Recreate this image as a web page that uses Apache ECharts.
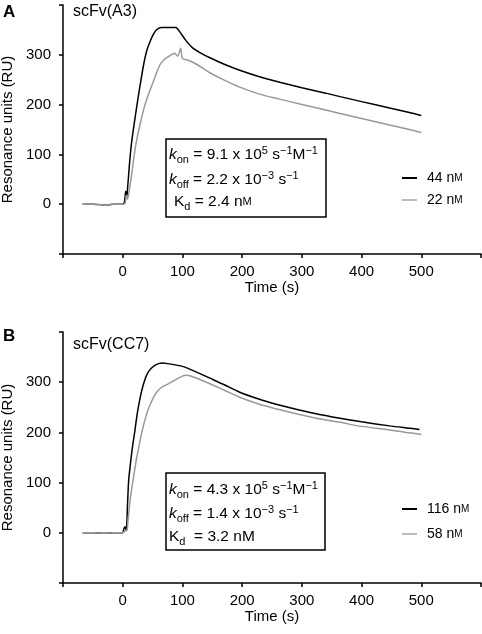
<!DOCTYPE html>
<html><head><meta charset="utf-8">
<script src="https://cdn.jsdelivr.net/npm/echarts@6/dist/echarts.min.js"></script>
<style>html,body{margin:0;padding:0;background:#fff}#c{width:482px;height:634px}</style>
</head><body><div id="c"></div>
<script>
// ---------- DATA ----------
const xTickLabels = [0, 100, 200, 300, 400, 500];
const yTickLabels = [0, 100, 200, 300];

// Panel A: scFv(A3)
const seriesNameA1 = '44 nM';
const timeA1 = [-67,-50,-35,-28,-22,-15,-5,0,3,5,7,8,10,12,15,20,25,30,35,40,45,50,55,60,65,75,89,95,105,117,130,146,170,196,229,263,300,340,364,400,447,480,500];
const valueA1 = [0,0,-1,-2,-1,0,0,0,5,26,16,30,60,90,125,168,208,245,280,307,324,338,348,353,355,355,355,347,330,314,304,294,281,269,256,245,234,223,216,206,193,184,178];

const seriesNameA2 = '22 nM';
const timeA2 = [-67,-50,-35,-28,-22,-15,-5,0,4,6,8,10,15,20,25,30,35,40,47,55,62,70,80,87,92,97,100,110,125,146,170,196,229,263,300,340,364,400,447,480,500];
const valueA2 = [0,0,-1,-2,-1,0,0,0,2,18,10,20,60,105,138,165,190,210,233,258,279,291,299,303,297,313,293,289,280,264,249,235,221,211,200,189,182,172,159,150,144];

// Panel B: scFv(CC7)
const seriesNameB1 = '116 nM';
const timeB1 = [-67,-50,-30,-15,-5,0,2,4,6,8,10,13,16,20,24,28,32,36,40,45,52,60,67,75,90,104,120,146,170,196,229,260,280,320,364,400,447,475,497];
const valueB1 = [0,0,-1,0,0,0,8,12,5,55,105,138,168,200,235,262,284,301,314,324,332,337,338,337,334,330,322,308,295,280,266,255,249,238,228,221,213,209,206];

const seriesNameB2 = '58 nM';
const timeB2 = [-67,-50,-30,-15,-5,0,3,7,9,11,14,18,22,26,32,38,44,50,56,62,70,80,90,100,106,115,130,146,170,196,229,260,280,320,364,400,447,475,500];
const valueB2 = [0,0,-1,0,0,0,3,5,25,50,80,110,140,165,200,228,250,266,279,287,293,299,306,312,314,312,305,297,284,270,256,246,240,229,220,212,205,200,196];

// ---------- CHART ----------
const F = '"Liberation Sans", Arial, Helvetica, sans-serif';
const pairs = (t, v) => t.map((x, i) => [x, v[i]]);

function xAxisCfg(g) {
  return {
    type: 'value', gridIndex: g, min: -100, max: 600, interval: 100,
    name: 'Time (s)', nameLocation: 'middle', nameGap: 25,
    nameTextStyle: {color: '#000', fontSize: 15, fontFamily: F},
    axisLine: {onZero: false, lineStyle: {color: '#000', width: 1.5}},
    axisTick: {length: 4, lineStyle: {color: '#000', width: 1.5}},
    axisLabel: {margin: 10, color: '#000', fontSize: 15, fontFamily: F,
      formatter: v => xTickLabels.includes(v) ? String(v) : ''},
    splitLine: {show: false}
  };
}
function yAxisCfg(g) {
  return {
    type: 'value', gridIndex: g, min: -100, max: 400, interval: 100,
    name: 'Resonance units (RU)', nameLocation: 'middle', nameGap: 45,
    nameTextStyle: {color: '#000', fontSize: 15, fontFamily: F},
    axisLine: {onZero: false, lineStyle: {color: '#000', width: 1.5}},
    axisTick: {length: 4, lineStyle: {color: '#000', width: 1.5}},
    axisLabel: {margin: 12, color: '#000', fontSize: 15, fontFamily: F,
      formatter: v => yTickLabels.includes(v) ? String(v) : ''},
    splitLine: {show: false}
  };
}
function lineSeries(name, t, v, xi, color) {
  return {
    type: 'line', name, xAxisIndex: xi, yAxisIndex: xi,
    data: pairs(t, v), showSymbol: false, symbol: 'none',
    smooth: 0.25, lineStyle: {color, width: 1.5}, itemStyle: {color},
    animation: false
  };
}

const FS = 15.5;
const rich = {
  n: {fontSize: FS, fontFamily: F, color: '#000', lineHeight: 20, verticalAlign: 'middle'},
  i: {fontSize: FS, fontFamily: F, fontStyle: 'italic', color: '#000', lineHeight: 20, verticalAlign: 'middle'},
  sub: {fontSize: 11, fontFamily: F, color: '#000', lineHeight: 8, verticalAlign: 'bottom'},
  sup: {fontSize: 11, fontFamily: F, color: '#000', lineHeight: 12, verticalAlign: 'top'},
  sc: {fontSize: 11, fontFamily: F, color: '#000', lineHeight: 20, verticalAlign: 'middle'}
};
function txt(x, y, text) {
  return {type: 'text', x, y, style: {text, rich, fill: '#000', font: FS + 'px ' + F, verticalAlign: 'middle'}};
}
function legendCfg(names, top, gap) {
  return {
    orient: 'vertical', left: 402, top, padding: 0, itemGap: gap, itemWidth: 15, itemHeight: 2,
    icon: 'rect', data: names, selectedMode: false,
    formatter: nm => nm.replace('nM', 'n{sc|M}'),
    textStyle: {color: '#000', fontSize: 14, fontFamily: F, lineHeight: 16, padding: [0, 0, 0, 5],
      rich: {sc: {fontSize: 10, fontFamily: F, color: '#000', lineHeight: 16, verticalAlign: 'middle'}}}
  };
}

const chart = echarts.init(document.getElementById('c'), null, {renderer: 'canvas'});
chart.setOption({
  animation: false,
  backgroundColor: '#fff',
  grid: [
    {left: 63, top: 5, width: 418, height: 249, outerBoundsMode: 'none', containLabel: false},
    {left: 63, top: 332, width: 418, height: 251, outerBoundsMode: 'none', containLabel: false}
  ],
  xAxis: [xAxisCfg(0), xAxisCfg(1)],
  yAxis: [yAxisCfg(0), yAxisCfg(1)],
  legend: [
    legendCfg([{name: seriesNameA1}, {name: seriesNameA2, itemStyle: {color: '#bbb'}}], 170, 6),
    legendCfg([{name: seriesNameB1}, {name: seriesNameB2, itemStyle: {color: '#bbb'}}], 501, 9)
  ],
  series: [
    lineSeries(seriesNameA1, timeA1, valueA1, 0, '#000'),
    lineSeries(seriesNameA2, timeA2, valueA2, 0, '#999'),
    lineSeries(seriesNameB1, timeB1, valueB1, 1, '#000'),
    lineSeries(seriesNameB2, timeB2, valueB2, 1, '#999')
  ],
  graphic: [
    {type: 'text', x: 3, y: 4, style: {text: 'A', font: 'bold 17px ' + F, fill: '#000'}},
    {type: 'text', x: 73, y: 4, style: {text: 'scFv(A3)', font: '16px ' + F, fill: '#000'}},
    {type: 'text', x: 3, y: 328, style: {text: 'B', font: 'bold 17px ' + F, fill: '#000'}},
    {type: 'text', x: 73, y: 337, style: {text: 'scFv(CC7)', font: '16px ' + F, fill: '#000'}},
    {type: 'rect', shape: {x: 166, y: 139, width: 160, height: 78}, style: {fill: 'none', stroke: '#000', lineWidth: 1.5}},
    txt(169, 155, '{i|k}{sub|on}{n| = 9.1 x 10}{sup|5}{n| s}{sup|−1}{n|M}{sup|−1}'),
    txt(169, 180, '{i|k}{sub|off}{n| = 2.2 x 10}{sup|−3}{n| s}{sup|−1}'),
    txt(174, 202, '{n|K}{sub|d}{n| = 2.4 n}{sc|M}'),
    {type: 'rect', shape: {x: 166, y: 473, width: 159, height: 77}, style: {fill: 'none', stroke: '#000', lineWidth: 1.5}},
    txt(169, 490, '{i|k}{sub|on}{n| = 4.3 x 10}{sup|5}{n| s}{sup|−1}{n|M}{sup|−1}'),
    txt(169, 514, '{i|k}{sub|off}{n| = 1.4 x 10}{sup|−3}{n| s}{sup|−1}'),
    txt(169, 537, '{n|K}{sub|d}{n|  = 3.2 nM}')
  ]
});
</script></body></html>
